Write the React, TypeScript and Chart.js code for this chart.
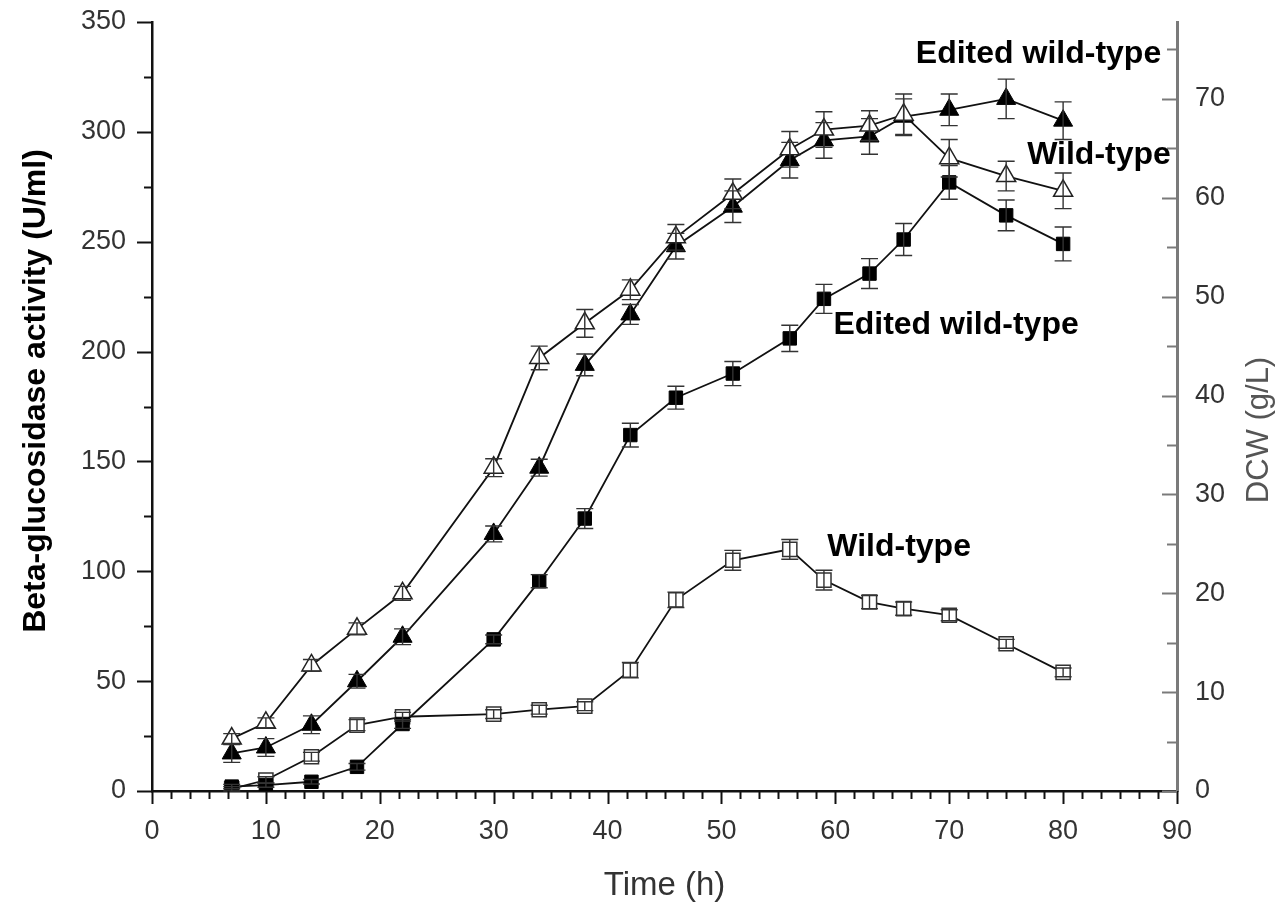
import React, { useEffect, useRef } from 'react';
import { Chart, registerables } from 'chart.js';

Chart.register(...registerables);

// ---------- data ----------
const timeH = [7, 10, 14, 18, 22, 30, 34, 38, 42, 46, 51, 56, 59, 63, 66, 70, 75, 80];

// Beta-glucosidase activity (U/ml) — squares, left axis
const wtActivity = [1, 5, 15.6, 30, 33.8, 35, 37, 38.6, 55, 87, 105, 110, 96, 86, 83, 80, 67, 54];
const wtActivityErr = [1, 1.5, 2, 2.5, 2, 2, 2, 2, 3.5, 3.5, 4.5, 4.5, 4.5, 3, 3, 2.5, 2, 2];
const editedActivity = [2, 2.7, 4.2, 11, 30.5, 69, 95.5, 124, 162, 179, 190, 206, 224, 235.5, 251, 277, 262, 249];
const editedActivityErr = [1, 1, 1, 1.5, 2, 2, 3, 4.5, 5.4, 5.2, 5.5, 6, 6.6, 6.8, 7.3, 7.7, 7, 7.7];

// DCW (g/L) — triangles, right axis
const wtDcw = [5.3, 6.9, 12.7, 16.4, 20.0, 32.7, 43.8, 47.3, 50.7, 56.0, 60.4, 64.9, 66.9, 67.3, 68.4, 64.0, 62.2, 60.7];
const wtDcwErr = [0.5, 0.5, 0.6, 0.6, 0.7, 0.9, 1.2, 1.4, 1.0, 1.3, 1.5, 1.8, 1.8, 1.5, 2.1, 1.9, 1.5, 1.8];
const editedDcw = [3.8, 4.4, 6.7, 11.1, 15.6, 26.0, 32.7, 43.1, 48.2, 55.1, 59.1, 63.8, 65.8, 66.2, 68.2, 68.9, 70.0, 67.8];
const editedDcwErr = [0.9, 0.9, 0.9, 0.7, 0.8, 0.8, 0.85, 1.1, 1.0, 1.3, 1.6, 1.8, 1.8, 1.8, 1.8, 1.6, 2.0, 1.9];

// axis settings
const xMin = 0;
const xMax = 90;
const xStep = 10;
const activityMax = 350;
const activityStep = 50;
const dcwMax = (350 * 2) / 9;
const dcwStep = 10;

// in-plot labels (data coordinates, left axis units)
const labelTexts = ['Edited wild-type', 'Wild-type', 'Edited wild-type', 'Wild-type'];
const labelX = [77.84, 83.15, 70.6, 65.6];
const labelY = [335.5, 289.6, 212, 111];

const FONT = 'Arial, "Liberation Sans", Helvetica, sans-serif';

const pts = (ys: number[]) => timeH.map((t, i) => ({ x: t, y: ys[i] }));

const errorBarPlugin = {
  id: 'errorBars',
  afterDatasetsDraw(chart: any) {
    const { ctx } = chart;
    ctx.save();
    chart.data.datasets.forEach((ds: any, di: number) => {
      const meta = chart.getDatasetMeta(di);
      const ys = chart.scales[ds.yAxisID];
      ctx.strokeStyle = '#333';
      ctx.lineWidth = 1.4;
      meta.data.forEach((pt: any, i: number) => {
        const v = ds.data[i].y;
        const e = ds.errors[i];
        const top = ys.getPixelForValue(v + e);
        const bot = ys.getPixelForValue(Math.max(0, v - e));
        const px = pt.x;
        const cw = 8.5;
        ctx.beginPath();
        ctx.moveTo(px, top);
        ctx.lineTo(px, bot);
        ctx.moveTo(px - cw, top);
        ctx.lineTo(px + cw, top);
        ctx.moveTo(px - cw, bot);
        ctx.lineTo(px + cw, bot);
        ctx.stroke();
      });
    });
    ctx.restore();
  },
};

const decorPlugin = {
  id: 'decor',
  afterDraw(chart: any) {
    const { ctx, chartArea: ca } = chart;
    const x = chart.scales.x;
    const y = chart.scales.y;
    const y2 = chart.scales.y2;
    ctx.save();
    ctx.lineCap = 'butt';

    // x ticks: major every 10, 5 minor in between
    ctx.strokeStyle = '#111';
    ctx.lineWidth = 2;
    const xSub = 6;
    for (let i = 0; i <= ((xMax - xMin) / xStep) * xSub; i++) {
      const v = xMin + (i * xStep) / xSub;
      const major = i % xSub === 0;
      const px = Math.round(x.getPixelForValue(v)) + 0.5;
      ctx.beginPath();
      ctx.moveTo(px, ca.bottom);
      ctx.lineTo(px, ca.bottom + (major ? 13 : 8));
      ctx.stroke();
    }

    // left y ticks: major every 50, minor at 25
    for (let i = 0; i <= (activityMax / activityStep) * 2; i++) {
      const v = (i * activityStep) / 2;
      const major = i % 2 === 0;
      const py = Math.round(y.getPixelForValue(v)) + 0.5;
      ctx.beginPath();
      ctx.moveTo(ca.left, py);
      ctx.lineTo(ca.left - (major ? 15 : 8), py);
      ctx.stroke();
    }

    // right y ticks (inward, gray)
    ctx.strokeStyle = '#7a7a7a';
    for (let i = 0; (i * dcwStep) / 2 <= dcwMax; i++) {
      const v = (i * dcwStep) / 2;
      const major = i % 2 === 0;
      const py = Math.round(y2.getPixelForValue(v)) + 0.5;
      ctx.beginPath();
      ctx.moveTo(ca.right, py);
      ctx.lineTo(ca.right - (major ? 15 : 10), py);
      ctx.stroke();
    }

    // in-plot labels
    ctx.fillStyle = '#000';
    ctx.font = `bold 32px ${FONT}`;
    ctx.textAlign = 'center';
    ctx.textBaseline = 'middle';
    labelTexts.forEach((t, i) => {
      ctx.fillText(t, x.getPixelForValue(labelX[i]), y.getPixelForValue(labelY[i]));
    });

    // left axis title
    ctx.save();
    ctx.translate(36, 391);
    ctx.rotate(-Math.PI / 2);
    ctx.font = `bold 32px ${FONT}`;
    ctx.fillStyle = '#000';
    ctx.fillText('Beta-glucosidase activity (U/ml)', 0, 0);
    ctx.restore();

    // right axis title
    ctx.save();
    ctx.translate(1259, 430);
    ctx.rotate(-Math.PI / 2);
    ctx.font = `31px ${FONT}`;
    ctx.fillStyle = '#555';
    ctx.fillText('DCW (g/L)', 0, 0);
    ctx.restore();

    // x axis title
    ctx.font = `33px ${FONT}`;
    ctx.fillStyle = '#333';
    ctx.fillText('Time (h)', (ca.left + ca.right) / 2, 886);

    ctx.restore();
  },
};

export default function App() {
  const ref = useRef<HTMLCanvasElement>(null);

  useEffect(() => {
    document.body.style.margin = '0';
    const canvas = ref.current!;
    const tickFont = { family: FONT, size: 27 };

    const chart = new Chart(canvas, {
      type: 'scatter',
      data: {
        datasets: [
          {
            label: 'Wild-type DCW',
            data: pts(wtDcw),
            errors: wtDcwErr,
            yAxisID: 'y2',
            showLine: true,
            borderColor: '#111',
            borderWidth: 1.8,
            pointStyle: 'triangle',
            pointRadius: 11,
            pointBackgroundColor: '#fff',
            pointBorderColor: '#222',
            pointBorderWidth: 1.5,
          } as any,
          {
            label: 'Edited wild-type DCW',
            data: pts(editedDcw),
            errors: editedDcwErr,
            yAxisID: 'y2',
            showLine: true,
            borderColor: '#111',
            borderWidth: 1.8,
            pointStyle: 'triangle',
            pointRadius: 11,
            pointBackgroundColor: '#000',
            pointBorderColor: '#000',
            pointBorderWidth: 1,
          } as any,
          {
            label: 'Edited wild-type activity',
            data: pts(editedActivity),
            errors: editedActivityErr,
            yAxisID: 'y',
            showLine: true,
            borderColor: '#111',
            borderWidth: 1.8,
            pointStyle: 'rect',
            pointRadius: 9.5,
            pointBackgroundColor: '#000',
            pointBorderColor: '#000',
            pointBorderWidth: 1,
          } as any,
          {
            label: 'Wild-type activity',
            data: pts(wtActivity),
            errors: wtActivityErr,
            yAxisID: 'y',
            showLine: true,
            borderColor: '#111',
            borderWidth: 1.8,
            pointStyle: 'rect',
            pointRadius: 10,
            pointBackgroundColor: '#fff',
            pointBorderColor: '#333',
            pointBorderWidth: 1.5,
          } as any,
        ],
      },
      options: {
        responsive: false,
        animation: false,
        devicePixelRatio: 1,
        layout: { padding: { top: 22, left: 0, right: 0, bottom: 0 } },
        plugins: {
          legend: { display: false },
          tooltip: { enabled: false },
        },
        scales: {
          x: {
            type: 'linear',
            min: xMin,
            max: xMax,
            ticks: { stepSize: xStep, font: tickFont, color: '#333', padding: 11, maxRotation: 0 },
            grid: { display: true, drawOnChartArea: false, drawTicks: true, tickLength: 13, tickColor: 'rgba(0,0,0,0)' },
            border: { display: true, color: '#111', width: 2.5 },
            afterFit: (s: any) => {
              s.height = 119;
              s.paddingLeft = 0;
              s.paddingRight = 0;
            },
          },
          y: {
            type: 'linear',
            position: 'left',
            min: 0,
            max: activityMax,
            ticks: { stepSize: activityStep, font: tickFont, color: '#333', padding: 12 },
            grid: { display: true, drawOnChartArea: false, drawTicks: true, tickLength: 14, tickColor: 'rgba(0,0,0,0)' },
            border: { display: true, color: '#111', width: 2.5 },
            afterFit: (s: any) => {
              s.width = 152;
              s.paddingTop = 0;
              s.paddingBottom = 0;
            },
          },
          y2: {
            type: 'linear',
            position: 'right',
            min: 0,
            max: dcwMax,
            ticks: { stepSize: dcwStep, includeBounds: false, font: tickFont, color: '#333', padding: 10 },
            grid: { display: true, drawOnChartArea: false, drawTicks: true, tickLength: 8, tickColor: 'rgba(0,0,0,0)' },
            border: { display: true, color: '#7a7a7a', width: 3 },
            afterFit: (s: any) => {
              s.width = 99;
              s.paddingTop = 0;
              s.paddingBottom = 0;
            },
          },
        },
      } as any,
      plugins: [errorBarPlugin, decorPlugin],
    });

    return () => chart.destroy();
  }, []);

  return (
    <div style={{ width: 1276, height: 910, position: 'relative', background: '#fff' }}>
      <canvas ref={ref} width={1276} height={910} style={{ display: 'block' }} />
    </div>
  );
}
